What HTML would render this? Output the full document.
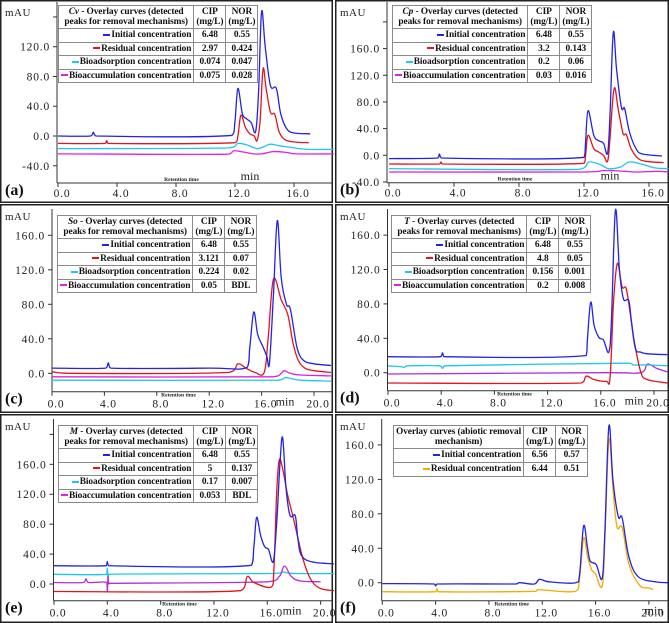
<!DOCTYPE html>
<html><head><meta charset="utf-8">
<style>
html,body{margin:0;padding:0;background:#fff;}
#wrap{position:relative;width:669px;height:623px;overflow:hidden;font-family:"Liberation Serif",serif;}
svg{position:absolute;left:0;top:0;}
table.lg{position:absolute;border-collapse:collapse;background:#fff;font-family:"Liberation Serif",serif;font-weight:bold;font-size:9.4px;color:#111;letter-spacing:-0.1px;}
table.lg td{border:1px solid #8a8a8a;padding:0 2px;line-height:10.5px;white-space:nowrap;}
table.lg td.c{text-align:center;}
table.lg td.r{text-align:right;}
.dash{display:inline-block;width:7px;height:2px;vertical-align:middle;margin-right:1px;}
</style></head>
<body>
<div id="wrap">
<svg id="fig" width="669" height="623" viewBox="0 0 669 623"></svg>

<table class="lg" style="left:58px;top:5px;width:184px;height:78px">
<tr style="height:23px"><td class="c" style="width:122px"><i>Cv</i> - Overlay curves (detected<br>peaks for removal mechanisms)</td><td class="c">CIP<br>(mg/L)</td><td class="c">NOR<br>(mg/L)</td></tr>
<tr><td class="r"><span class="dash" style="background:#2323e6"></span>Initial concentration</td><td class="c">6.48</td><td class="c">0.55</td></tr>
<tr><td class="r"><span class="dash" style="background:#e3141e"></span>Residual concentration</td><td class="c">2.97</td><td class="c">0.424</td></tr>
<tr><td class="r"><span class="dash" style="background:#1ec8ea"></span>Bioadsorption concentration</td><td class="c">0.074</td><td class="c">0.047</td></tr>
<tr><td class="r"><span class="dash" style="background:#e41ee4"></span>Bioaccumulation concentration</td><td class="c">0.075</td><td class="c">0.028</td></tr>
</table>

<table class="lg" style="left:392px;top:5px;width:182px;height:78px">
<tr style="height:23px"><td class="c" style="width:122px"><i>Cp</i> - Overlay curves (detected<br>peaks for removal mechanisms)</td><td class="c">CIP<br>(mg/L)</td><td class="c">NOR<br>(mg/L)</td></tr>
<tr><td class="r"><span class="dash" style="background:#2323e6"></span>Initial concentration</td><td class="c">6.48</td><td class="c">0.55</td></tr>
<tr><td class="r"><span class="dash" style="background:#e3141e"></span>Residual concentration</td><td class="c">3.2</td><td class="c">0.143</td></tr>
<tr><td class="r"><span class="dash" style="background:#1ec8ea"></span>Bioadsorption concentration</td><td class="c">0.2</td><td class="c">0.06</td></tr>
<tr><td class="r"><span class="dash" style="background:#e41ee4"></span>Bioaccumulation concentration</td><td class="c">0.03</td><td class="c">0.016</td></tr>
</table>

<table class="lg" style="left:57px;top:215px;width:183px;height:78px">
<tr style="height:23px"><td class="c" style="width:122px"><i>So</i> - Overlay curves (detected<br>peaks for removal mechanisms)</td><td class="c">CIP<br>(mg/L)</td><td class="c">NOR<br>(mg/L)</td></tr>
<tr><td class="r"><span class="dash" style="background:#2323e6"></span>Initial concentration</td><td class="c">6.48</td><td class="c">0.55</td></tr>
<tr><td class="r"><span class="dash" style="background:#e3141e"></span>Residual concentration</td><td class="c">3.121</td><td class="c">0.07</td></tr>
<tr><td class="r"><span class="dash" style="background:#1ec8ea"></span>Bioadsorption concentration</td><td class="c">0.224</td><td class="c">0.02</td></tr>
<tr><td class="r"><span class="dash" style="background:#e41ee4"></span>Bioaccumulation concentration</td><td class="c">0.05</td><td class="c">BDL</td></tr>
</table>

<table class="lg" style="left:391px;top:215px;width:182px;height:78px">
<tr style="height:23px"><td class="c" style="width:122px"><i>T</i> - Overlay curves (detected<br>peaks for removal mechanisms)</td><td class="c">CIP<br>(mg/L)</td><td class="c">NOR<br>(mg/L)</td></tr>
<tr><td class="r"><span class="dash" style="background:#2323e6"></span>Initial concentration</td><td class="c">6.48</td><td class="c">0.55</td></tr>
<tr><td class="r"><span class="dash" style="background:#e3141e"></span>Residual concentration</td><td class="c">4.8</td><td class="c">0.05</td></tr>
<tr><td class="r"><span class="dash" style="background:#1ec8ea"></span>Bioadsorption concentration</td><td class="c">0.156</td><td class="c">0.001</td></tr>
<tr><td class="r"><span class="dash" style="background:#e41ee4"></span>Bioaccumulation concentration</td><td class="c">0.2</td><td class="c">0.008</td></tr>
</table>

<table class="lg" style="left:58px;top:425px;width:184px;height:78px">
<tr style="height:23px"><td class="c" style="width:122px"><i>M</i> - Overlay curves (detected<br>peaks for removal mechanisms)</td><td class="c">CIP<br>(mg/L)</td><td class="c">NOR<br>(mg/L)</td></tr>
<tr><td class="r"><span class="dash" style="background:#2323e6"></span>Initial concentration</td><td class="c">6.48</td><td class="c">0.55</td></tr>
<tr><td class="r"><span class="dash" style="background:#e3141e"></span>Residual concentration</td><td class="c">5</td><td class="c">0.137</td></tr>
<tr><td class="r"><span class="dash" style="background:#1ec8ea"></span>Bioadsorption concentration</td><td class="c">0.17</td><td class="c">0.007</td></tr>
<tr><td class="r"><span class="dash" style="background:#e41ee4"></span>Bioaccumulation concentration</td><td class="c">0.053</td><td class="c">BDL</td></tr>
</table>

<table class="lg" style="left:393px;top:425px;width:183px;height:52px">
<tr style="height:23px"><td class="c" style="width:122px">Overlay curves (abiotic removal<br>mechanism)</td><td class="c">CIP<br>(mg/L)</td><td class="c">NOR<br>(mg/L)</td></tr>
<tr><td class="r"><span class="dash" style="background:#2323e6"></span>Initial concentration</td><td class="c">6.56</td><td class="c">0.57</td></tr>
<tr><td class="r"><span class="dash" style="background:#f5aa00"></span>Residual concentration</td><td class="c">6.44</td><td class="c">0.51</td></tr>
</table>
</div>

<script>
// ---------- DATA (retention time in min, signal in mAU) ----------
const aInitialT=[0,2.2,2.4,2.6,11.8,12.0,12.2,12.5,12.8,13.1,13.4,13.6,13.8,14.05,14.4,14.8,15.1,15.5,16,17.1];
const aInitialV=[0,0,5,0,1,20,64,30,23,18,6,60,167,120,68,64,30,10,4,3];
const aResidualT=[0,3.2,3.3,3.4,12.0,12.2,12.4,12.7,13.0,13.3,13.5,13.7,13.9,14.1,14.4,14.7,15.0,15.4,16,17];
const aResidualV=[-10,-10,-6,-10,-9,0,28,12,3,0,-6,20,90,65,32,29,5,-5,-8,-9];
const aBioadsT=[0,11.6,12.2,12.8,13.5,14.0,14.4,15,16,17,18.7];
const aBioadsV=[-17,-16,-10,-12,-17,-14,-11,-13,-16,-18,-18];
const aBioaccT=[0,11.5,11.9,12.4,13.3,13.8,14.6,15.5,16.2,18.7];
const aBioaccV=[-24,-24.5,-20,-21,-24,-24,-21,-22,-24,-24];

const bInitialT=[0,3.0,3.1,3.25,12.0,12.1,12.25,12.6,12.9,13.2,13.45,13.6,13.8,14.0,14.3,14.5,14.8,15.2,15.6,16.8];
const bInitialV=[-5,-4,2,-4,-3,20,67,30,22,18,3,60,184,130,72,70,35,10,2,-1];
const bResidualT=[0,3.1,3.2,3.3,12.0,12.1,12.25,12.6,12.9,13.2,13.45,13.6,13.85,14.1,14.4,14.6,14.9,15.3,15.8,16.9];
const bResidualV=[-13,-13,-10,-13,-12,0,30,10,5,0,-9,25,100,70,33,31,10,-4,-9,-11];
const bBioadsT=[0,11.7,12.3,13.0,13.5,14.2,14.8,15.5,16.4,17.2];
const bBioadsV=[-20,-21,-10,-14,-20,-18,-10,-13,-19,-20];
const bBioaccT=[0,12.0,13.2,13.8,14.5,15.3,16.5,17.2];
const bBioaccV=[-25,-25,-23,-23,-24,-25,-24,-25];

const cInitialT=[0,4.1,4.3,4.5,12,14.9,15.1,15.4,15.7,16.1,16.4,16.6,16.9,17.2,17.5,17.9,18.2,18.7,19.2,20,21.3];
const cInitialV=[6,6,12,6,6,7,30,71,45,31,20,12,90,177,110,80,74,30,15,11,9];
const cResidualT=[0,1.5,13.5,14.2,14.8,15.5,16.2,16.5,16.9,17.5,18.0,18.4,18.8,19.3,20,21.3];
const cResidualV=[2,0,1,11,6,1,1,40,109,85,68,35,15,6,3,1];
const cBioaccT=[0,16.8,17.5,17.7,18.2,19,21.3];
const cBioaccV=[-4,-4,0,3,0,-2,-3];
const cBioadsT=[0,17.2,17.8,18.2,19,21.3];
const cBioadsV=[-8,-8,-5,-6,-8,-9];

const dInitialT=[0,3.95,4.1,4.25,14.9,15.0,15.24,15.5,15.86,16.2,16.6,16.8,17.1,17.4,17.7,18.1,18.3,18.6,19.0,19.5,21];
const dInitialV=[18.6,18.6,23,18.6,20,40,82,55,41,38,24,60,189,120,86,84,60,28,24,22,21];
const dResidualT=[0,14.5,14.9,15.5,16.4,16.7,16.95,17.24,17.6,17.9,18.2,18.5,19.0,19.5,21];
const dResidualV=[-12,-12,-4,-8,-10,-5,80,127,100,98,70,38,1,-8,-12];
const dBioadsT=[0,1.0,1.2,1.5,3.9,4.1,4.3,18,18.5,19.5,21];
const dBioadsV=[8,7,6,8,8,5,8,11,9,9,8];
const dBioaccT=[0,16,19,19.5,20.2,21];
const dBioaccV=[-1.5,0,0,10,5,1];

const eInitialT=[0,3.9,4.0,4.1,14.8,15.0,15.2,15.5,15.8,16.1,16.45,16.7,16.95,17.15,17.4,17.7,18.1,18.3,18.6,19.5,21];
const eInitialV=[24.5,24.5,30,24.5,25,50,89,65,50,46,30,80,160,196,130,92,91,60,37,29,27];
const eResidualT=[0,14.0,14.5,15.0,16.3,16.5,16.7,16.9,17.2,17.5,18.0,18.7,19.3,20,21];
const eResidualV=[-10,-9,10,2,-4,20,120,166,150,121,85,32,5,-6,-9];
const eBioadsT=[0,3.95,4.0,4.05,4.1,16.5,17.2,18,21];
const eBioadsV=[13,13,21,8,13,14,16,14,14];
const eBioaccT=[0,2.2,2.4,2.6,3.95,4.0,4.05,4.1,4.2,16,16.9,17.3,17.8,18.5,20];
const eBioaccV=[2,2,7,2,2,-10,10,1,1,3,10,24,10,4,3];

const fInitialT=[0,3.9,4.0,4.1,10.0,10.3,11.4,11.8,12.5,14.5,14.8,15.1,15.4,15.6,16.05,16.5,16.7,17.0,17.3,17.7,18.0,18.5,19.2,20.5,21.4];
const fInitialV=[-1,-1.5,-4,-1.5,-1.5,0,-1.5,4,1,0,10,66,40,25,21,5,60,182,120,77,75,30,7,1,0];
const fResidualT=[0,4.0,4.1,4.2,11.5,11.7,14.5,14.8,15.1,15.4,15.7,16.0,16.5,16.7,17.0,17.3,17.6,18.0,18.5,19.3,20,20.3];
const fResidualV=[-10.5,-10.5,-7,-10.5,-10,-8,-10,5,52,30,15,10,-4,50,166,110,65,64,22,-3,-6,-8];

const xTickVals16=[0,4,8,12,16];
const xTickVals20=[0,4,8,12,16,20];
const yTicksA=[-40,0,40,80,120];
const yTicksB=[-40,0,40,80,120,160];
const yTicksC=[0,40,80,120,160];
const yTicksE=[0,40,80,120,160];

// ---------- DRAW ----------
const svg=document.getElementById('fig');
const NS='http://www.w3.org/2000/svg';
function mk(tag,attrs,parent){const e=document.createElementNS(NS,tag);for(const k in attrs)e.setAttribute(k,attrs[k]);(parent||svg).appendChild(e);return e;}

const C={blue:'#2323e6',red:'#e3141e',cyan:'#1ec8ea',mag:'#e41ee4',purple:'#b030d8',orange:'#f5aa00'};

const panels=[
 {id:'a',bx:0,by:0,bw:333,bh:203,x0:58,pm:14.75,y0:136,pu:0.744,ax:57,ayTop:2,axY:183,xr:333,xt:xTickVals16,yt:yTicksA,ytExtra:[160],minX:250,
  series:[[aBioaccT,aBioaccV,C.mag,'bioaccumulation'],[aBioadsT,aBioadsV,C.cyan,'bioadsorption'],[aResidualT,aResidualV,C.red,'residual'],[aInitialT,aInitialV,C.blue,'initial']]},
 {id:'b',bx:335,by:0,bw:334,bh:203,x0:389,pm:16.25,y0:155.3,pu:0.667,ax:387,ayTop:2,axY:182.7,xr:669,xt:xTickVals16,yt:yTicksB,ytExtra:[200],minX:610,
  series:[[bBioaccT,bBioaccV,C.mag,'bioaccumulation'],[bBioadsT,bBioadsV,C.cyan,'bioadsorption'],[bResidualT,bResidualV,C.red,'residual'],[bInitialT,bInitialV,C.blue,'initial']]},
 {id:'c',bx:0,by:204,bw:333,bh:209,x0:52,pm:13.1,y0:373.3,pu:0.8625,ax:52,ayTop:209,axY:391.7,xr:333,xt:xTickVals20,yt:yTicksC,ytExtra:[],minX:285,
  series:[[cBioadsT,cBioadsV,C.cyan,'bioadsorption'],[cBioaccT,cBioaccV,C.mag,'bioaccumulation'],[cResidualT,cResidualV,C.red,'residual'],[cInitialT,cInitialV,C.blue,'initial']]},
 {id:'d',bx:335,by:204,bw:334,bh:209,x0:388,pm:13.3,y0:372.7,pu:0.86,ax:387.5,ayTop:209,axY:390.7,xr:669,xt:xTickVals20,yt:yTicksC,ytExtra:[],minX:634,
  series:[[dBioaccT,dBioaccV,C.purple,'bioaccumulation'],[dBioadsT,dBioadsV,C.cyan,'bioadsorption'],[dResidualT,dResidualV,C.red,'residual'],[dInitialT,dInitialV,C.blue,'initial']]},
 {id:'e',bx:0,by:414,bw:333,bh:209,x0:54,pm:13.33,y0:584,pu:0.748,ax:53.5,ayTop:419,axY:600.7,xr:333,xt:xTickVals20,yt:yTicksE,ytExtra:[200],minX:292,
  series:[[eBioadsT,eBioadsV,C.cyan,'bioadsorption'],[eBioaccT,eBioaccV,C.purple,'bioaccumulation'],[eResidualT,eResidualV,C.red,'residual'],[eInitialT,eInitialV,C.blue,'initial']]},
 {id:'f',bx:335,by:414,bw:334,bh:209,x0:382.3,pm:13.33,y0:582.7,pu:0.861,ax:381.7,ayTop:419,axY:600.7,xr:669,xt:xTickVals20,yt:yTicksC,ytExtra:[],minX:654,
  series:[[fResidualT,fResidualV,C.orange,'residual'],[fInitialT,fInitialV,C.blue,'initial']]}
];

// Catmull-Rom smoothed path through points
function smoothPath(P){
  let d='M'+P[0][0].toFixed(1)+','+P[0][1].toFixed(1);
  const k=0.35;
  for(let i=0;i<P.length-1;i++){
    const p0=P[i-1]||P[i],p1=P[i],p2=P[i+1],p3=P[i+2]||P[i+1];
    let c1x=p1[0]+(p2[0]-p0[0])*k/2*1, c1y=p1[1]+(p2[1]-p0[1])*k/2;
    let c2x=p2[0]-(p3[0]-p1[0])*k/2, c2y=p2[1]-(p3[1]-p1[1])*k/2;
    // keep control x within segment to avoid loops
    c1x=Math.min(Math.max(c1x,p1[0]),p2[0]); c2x=Math.min(Math.max(c2x,p1[0]),p2[0]);
    d+=' C'+c1x.toFixed(1)+','+c1y.toFixed(1)+' '+c2x.toFixed(1)+','+c2y.toFixed(1)+' '+p2[0].toFixed(1)+','+p2[1].toFixed(1);
  }
  return d;
}

panels.forEach(p=>{
  const g=mk('g',{});
  
  
  const X=t=>p.x0+t*p.pm, Y=v=>p.y0-v*p.pu;
  const top=(p.id==='a'||p.id==='b');
  const br=mk('rect',{x:p.bx+0.75,y:p.by+0.75,width:p.bw-1.5,height:p.bh-1.5,fill:'none',stroke:'#222','stroke-width':1.5},g);
  
  
  const ya=mk('line',{x1:p.ax,y1:p.ayTop,x2:p.ax,y2:p.axY,stroke:'#333','stroke-width':1},g);
  
  
  const xa=mk('line',{x1:p.ax,y1:p.axY,x2:p.xr,y2:p.axY,stroke:'#333','stroke-width':1},g);
  
  
  p.yt.concat(p.ytExtra).forEach((v,i)=>{
    const y=Y(v);
    mk('line',{x1:p.ax-4,y1:y,x2:p.ax,y2:y,stroke:'#333','stroke-width':1},g);
    if(i<p.yt.length){
      const t=mk('text',{x:p.ax-7,y:y+4,'text-anchor':'end','font-size':11.5,fill:'#222','letter-spacing':'0.8','font-family':'Liberation Serif, serif'},g);
      t.textContent=v.toFixed(1);
      
      
    }
  });
  p.xt.forEach(v=>{
    const x=X(v);
    mk('line',{x1:x,y1:p.axY,x2:x,y2:p.axY+4,stroke:'#333','stroke-width':1},g);
    const t=mk('text',{x:x+4,y:p.axY+(top?14:16),'text-anchor':'middle','font-size':11.5,fill:'#222','letter-spacing':'0.8','font-family':'Liberation Serif, serif'},g);
    t.textContent=v.toFixed(1);
    
    
  });
  const mau=mk('text',{x:p.bx+5,y:p.ayTop+(top?14:11),'font-size':11,fill:'#222','letter-spacing':'0.5','font-family':'Liberation Serif, serif'},g);
  mau.textContent='mAU';
  
  
  const rt=mk('text',{x:(p.x0+p.xr)/2-14,y:p.axY+(top?-2:5),'text-anchor':'middle','font-size':5.5,'font-weight':'bold',fill:'#222','font-family':'Liberation Serif, serif'},g);
  rt.textContent='Retention time';
  
  
  const mn=mk('text',{x:p.minX,y:p.axY+(top?-3:14),'text-anchor':'middle','font-size':12,fill:'#222','font-family':'Liberation Serif, serif'},g);
  mn.textContent='min';
  
  
  const pl=mk('text',{x:p.bx+5,y:p.axY+(top?12:12),'font-size':16,'font-weight':'bold',fill:'#111','font-family':'Liberation Serif, serif'},g);
  pl.textContent='('+p.id+')';
  
  
  p.series.forEach(s=>{
    const [ts,vs,col,nm]=s;
    const P=ts.map((t,i)=>[X(t),Y(vs[i])]);
    const path=mk('path',{d:smoothPath(P),fill:'none',stroke:col,'stroke-width':1.3,'stroke-linejoin':'round'},g);
    
    
  });
});
</script>
</body></html>
